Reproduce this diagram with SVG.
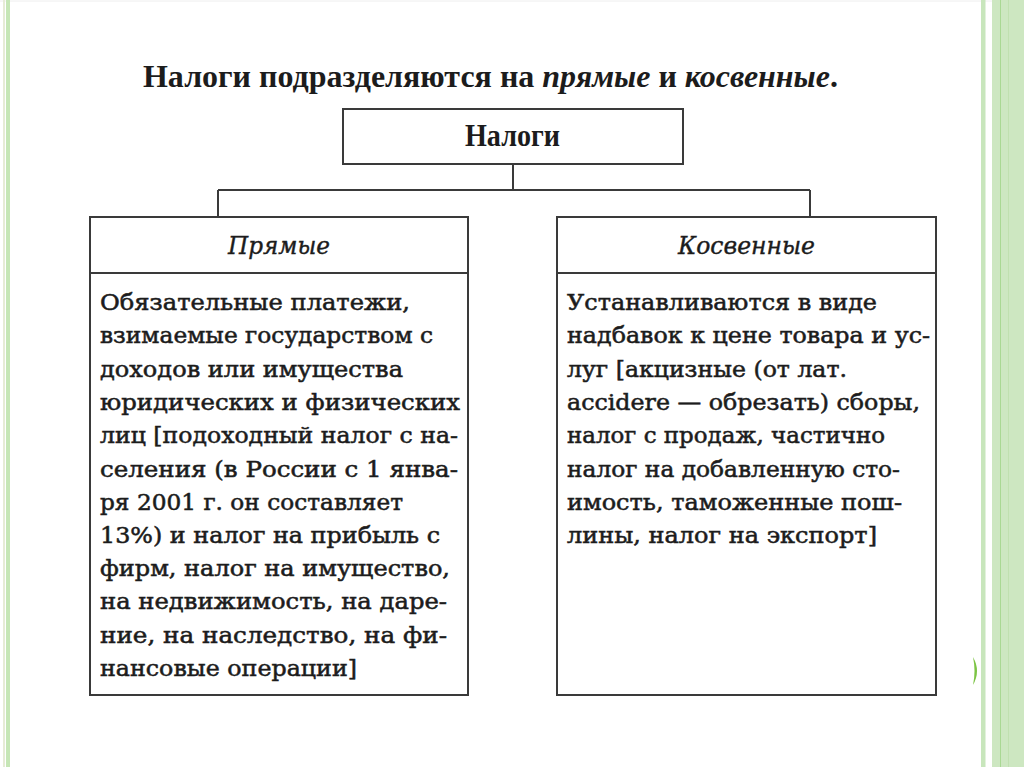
<svg xmlns="http://www.w3.org/2000/svg" width="1024" height="767" viewBox="0 0 1024 767">
<style>
.box{fill:#fff;stroke:#3a3a3a;stroke-width:2}
.ln{fill:none;stroke:#3a3a3a;stroke-width:2}
.body{font-family:"DejaVu Serif","Liberation Serif",serif;font-size:23px;fill:#1c1c1c;stroke:#1c1c1c;stroke-width:0.55px}
.hdr{font-family:"DejaVu Serif","Liberation Serif",serif;font-style:italic;font-size:24px;fill:#1c1c1c;stroke:#1c1c1c;stroke-width:0.4px}
.bold{font-family:"Liberation Serif","DejaVu Serif",serif;font-weight:bold;font-size:31px;fill:#1c1c1c}
</style>
<rect width="1024" height="767" fill="#fff"/>
<line x1="0" y1="1" x2="1024" y2="1" stroke="#eeeeee" stroke-width="1"/>
<rect x="3" y="0" width="2" height="767" fill="#e6ebd6"/>
<rect x="6" y="0" width="4" height="767" fill="#c6e6b6"/>
<rect x="981" y="0" width="4.5" height="767" fill="#c8e6bc"/>
<rect x="992" y="0" width="32" height="767" fill="#cde7c1"/>
<rect x="1000" y="0" width="1" height="767" fill="#a9d893"/>
<rect x="1008" y="0" width="1" height="767" fill="#c0e0b0"/>
<path d="M973,657 Q981,671 973,685 Q976,671 973,657 Z" fill="#7cc444"/>

<text class="bold" x="143" y="87" textLength="695" lengthAdjust="spacingAndGlyphs">Налоги подразделяются на <tspan font-style="italic">прямые</tspan> и <tspan font-style="italic">косвенные</tspan>.</text>

<g id="connectors">
<path class="ln" d="M513,164 V190 M218,190 H810 M218,190 V217 M810,190 V217"/>
</g>

<g id="node-nalogi">
<rect class="box" x="343" y="109" width="340" height="55"/>
<text class="bold" x="465" y="146" textLength="95" lengthAdjust="spacingAndGlyphs">Налоги</text>
</g>

<g id="node-pryamye">
<rect class="box" x="90" y="217" width="378" height="478"/>
<line class="ln" x1="90" y1="273" x2="468" y2="273"/>
<text class="hdr" x="228" y="254" textLength="102" lengthAdjust="spacingAndGlyphs">Прямые</text>
<g class="body">
<text x="100" y="310" textLength="310" lengthAdjust="spacingAndGlyphs">Обязательные платежи,</text>
<text x="100" y="343" textLength="333" lengthAdjust="spacingAndGlyphs">взимаемые государством с</text>
<text x="100" y="377" textLength="303" lengthAdjust="spacingAndGlyphs">доходов или имущества</text>
<text x="100" y="410" textLength="360" lengthAdjust="spacingAndGlyphs">юридических и физических</text>
<text x="100" y="443" textLength="358" lengthAdjust="spacingAndGlyphs">лиц [подоходный налог с на-</text>
<text x="100" y="477" textLength="358" lengthAdjust="spacingAndGlyphs">селения (в России с 1 янва-</text>
<text x="100" y="510" textLength="303" lengthAdjust="spacingAndGlyphs">ря 2001 г. он составляет</text>
<text x="100" y="543" textLength="340" lengthAdjust="spacingAndGlyphs">13%) и налог на прибыль с</text>
<text x="100" y="576" textLength="350" lengthAdjust="spacingAndGlyphs">фирм, налог на имущество,</text>
<text x="100" y="609" textLength="347" lengthAdjust="spacingAndGlyphs">на недвижимость, на даре-</text>
<text x="100" y="643" textLength="347" lengthAdjust="spacingAndGlyphs">ние, на наследство, на фи-</text>
<text x="100" y="676" textLength="257" lengthAdjust="spacingAndGlyphs">нансовые операции]</text>
</g>
</g>

<g id="node-kosvennye">
<rect class="box" x="557" y="217" width="379" height="478"/>
<line class="ln" x1="557" y1="273" x2="936" y2="273"/>
<text class="hdr" x="678" y="254" textLength="137" lengthAdjust="spacingAndGlyphs">Косвенные</text>
<g class="body">
<text x="567" y="310" textLength="310" lengthAdjust="spacingAndGlyphs">Устанавливаются в виде</text>
<text x="567" y="343" textLength="363" lengthAdjust="spacingAndGlyphs">надбавок к цене товара и ус-</text>
<text x="567" y="377" textLength="280" lengthAdjust="spacingAndGlyphs">луг [акцизные (от лат.</text>
<text x="567" y="410" textLength="353" lengthAdjust="spacingAndGlyphs">accidere — обрезать) сборы,</text>
<text x="567" y="443" textLength="318" lengthAdjust="spacingAndGlyphs">налог с продаж, частично</text>
<text x="567" y="477" textLength="333" lengthAdjust="spacingAndGlyphs">налог на добавленную сто-</text>
<text x="567" y="510" textLength="335" lengthAdjust="spacingAndGlyphs">имость, таможенные пош-</text>
<text x="567" y="543" textLength="310" lengthAdjust="spacingAndGlyphs">лины, налог на экспорт]</text>
</g>
</g>
</svg>
